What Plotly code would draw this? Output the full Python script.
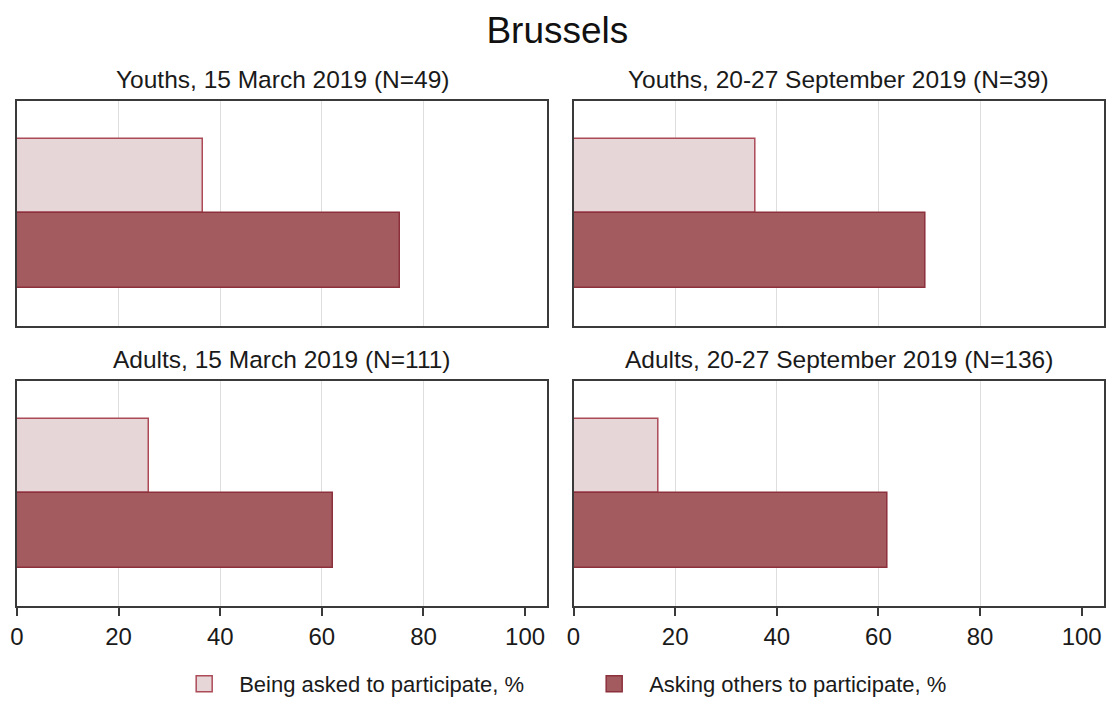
import plotly.graph_objects as go
from plotly.subplots import make_subplots

# panel titles, row by row
panel_titles = [
    "Youths, 15 March 2019 (N=49)",
    "Youths, 20-27 September 2019 (N=39)",
    "Adults, 15 March 2019 (N=111)",
    "Adults, 20-27 September 2019 (N=136)",
]
series_names = ["Being asked to participate, %", "Asking others to participate, %"]

# values per panel (same order as panel_titles)
being_asked = [36.6, 35.8, 26.0, 16.8]
asking_others = [75.4, 69.2, 62.1, 61.7]

x_ticks = [0, 20, 40, 60, 80, 100]
grid_ticks = [20, 40, 60, 80]

light_fill = "rgb(231,214,216)"
light_line = "rgb(172,74,88)"
dark_fill = "rgb(164,91,96)"
dark_line = "rgb(140,48,60)"

fig = make_subplots(
    rows=2,
    cols=2,
    subplot_titles=panel_titles,
    horizontal_spacing=0.024,
    vertical_spacing=0.109,
)

for i in range(4):
    r, c = i // 2 + 1, i % 2 + 1
    fig.add_trace(
        go.Bar(
            x=[being_asked[i]],
            y=[series_names[0]],
            orientation="h",
            width=1,
            name=series_names[0],
            marker=dict(color=light_fill, line=dict(color=light_line, width=1.5)),
            showlegend=False,
            legendgroup="a",
        ),
        row=r,
        col=c,
    )
    fig.add_trace(
        go.Bar(
            x=[asking_others[i]],
            y=[series_names[1]],
            orientation="h",
            width=1,
            name=series_names[1],
            marker=dict(color=dark_fill, line=dict(color=dark_line, width=1.5)),
            showlegend=False,
            legendgroup="b",
        ),
        row=r,
        col=c,
    )

# legend keys: bigger swatches than the default bar icon
for name, fill, line, grp in [
    (series_names[0], light_fill, light_line, "a"),
    (series_names[1], dark_fill, dark_line, "b"),
]:
    fig.add_trace(
        go.Scatter(
            x=[None],
            y=[None],
            mode="markers",
            name=name,
            legendgroup=grp,
            marker=dict(symbol="square", size=26, color=fill, line=dict(color=line, width=1.5)),
            hoverinfo="skip",
        ),
        row=1,
        col=1,
    )

fig.update_xaxes(
    range=[0, 104.4],
    tickvals=x_ticks,
    showgrid=False,
    minor=dict(tickvals=grid_ticks, showgrid=True, gridcolor="#dedede", gridwidth=1, ticks=""),
    showline=True,
    linecolor="#3a3a3a",
    linewidth=1.5,
    mirror=True,
    zeroline=False,
    tickfont=dict(size=24, color="#1a1a1a"),
)
fig.update_xaxes(showticklabels=False, ticks="", row=1)
fig.update_xaxes(ticks="outside", ticklen=8, tickcolor="#3a3a3a", tickwidth=1.5, row=2)

fig.update_yaxes(
    type="category",
    categoryorder="array",
    categoryarray=[series_names[1], series_names[0]],
    range=[-1, 2],
    showticklabels=False,
    showgrid=False,
    showline=True,
    linecolor="#3a3a3a",
    linewidth=1.5,
    mirror=True,
    zeroline=False,
)

for ann in fig.layout.annotations:
    ann.font = dict(size=24.5, color="#1a1a1a")
    ann.yshift = 6

fig.update_layout(
    title=dict(
        text="Brussels",
        x=0.503,
        xanchor="center",
        y=0.9576,
        yanchor="middle",
        font=dict(size=37, color="#111111"),
    ),
    font=dict(family="Liberation Sans, Arial, sans-serif", color="#1a1a1a"),
    paper_bgcolor="white",
    plot_bgcolor="white",
    bargap=0,
    legend=dict(
        orientation="h",
        x=0.14,
        xanchor="left",
        y=-0.1957,
        yanchor="bottom",
        font=dict(size=22, color="#1a1a1a"),
        itemwidth=60,
        itemsizing="trace",
        entrywidth=335,
        entrywidthmode="pixels",
        traceorder="normal",
    ),
    width=1108,
    height=707,
    margin=dict(l=17, r=2, t=101, b=100),
)

# drop the page's default body margin so the 1108x707 figure fills the window
fig.write_html(
    "out.html",
    config={"displayModeBar": False},
    post_script="document.body.style.margin='0px';",
)
